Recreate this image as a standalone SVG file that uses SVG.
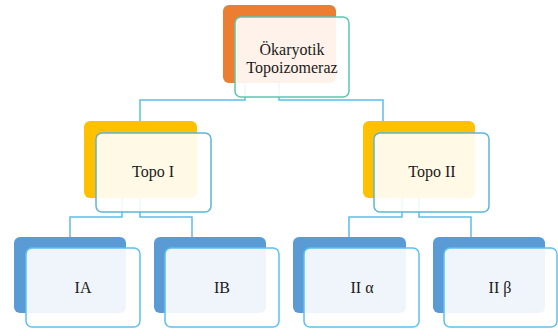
<svg xmlns="http://www.w3.org/2000/svg" width="558" height="336" viewBox="0 0 558 336">
<style>
.bg{fill:#ffffff}
.conn{fill:none;stroke:#5DBDE8;stroke-width:1.5}
.b1{fill:#ED7D31}
.b2{fill:#FFC000}
.b3{fill:#5B9BD5}
.f{fill:#ffffff;fill-opacity:0.9;stroke-width:1.5}
.f1{stroke:#5CC6AE}
.f2{stroke:#5AB6D8}
.f3{stroke:#5EC0EE}
.t{font-family:'Liberation Serif','DejaVu Serif',serif;font-size:16px;fill:#1a1a1a;text-anchor:middle}
</style>
<rect class="bg" width="558" height="336"/>
<g id="connectors">
<polyline class="conn" points="245,83 245,100 140,100 140,121"/>
<polyline class="conn" points="279,83 279,100 383,100 383,121"/>
<polyline class="conn" points="122,198 122,217 70,217 70,237"/>
<polyline class="conn" points="140,198 140,217 192,217 192,237"/>
<polyline class="conn" points="402,198 402,217 349,217 349,237"/>
<polyline class="conn" points="419,198 419,217 471,217 471,237"/>
</g>
<g id="n-top">
<rect class="b1" x="223" y="5" width="113" height="78" rx="6"/>
<rect class="f f1" x="235" y="17" width="114" height="80" rx="6"/>
<text class="t" x="292" y="55" font-family="Liberation Serif, serif">Ökaryotik</text>
<text class="t" x="292" y="73" font-family="Liberation Serif, serif">Topoizomeraz</text>
</g>
<g id="n-topo1">
<rect class="b2" x="84" y="121" width="113" height="77" rx="6"/>
<rect class="f f2" x="96" y="133" width="115" height="79" rx="6"/>
<text class="t" x="153" y="177">Topo I</text>
</g>
<g id="n-topo2">
<rect class="b2" x="363" y="121" width="112" height="77" rx="6"/>
<rect class="f f2" x="374" y="133" width="115" height="79" rx="6"/>
<text class="t" x="432" y="177">Topo II</text>
</g>
<g id="n-ia">
<rect class="b3" x="14" y="237" width="112" height="76" rx="6"/>
<rect class="f f3" x="26" y="248" width="114" height="79" rx="6"/>
<text class="t" x="83" y="293">IA</text>
</g>
<g id="n-ib">
<rect class="b3" x="154" y="237" width="112" height="76" rx="6"/>
<rect class="f f3" x="165" y="248" width="114" height="79" rx="6"/>
<text class="t" x="222" y="293">IB</text>
</g>
<g id="n-iia">
<rect class="b3" x="293" y="237" width="113" height="76" rx="6"/>
<rect class="f f3" x="304" y="248" width="115" height="79" rx="6"/>
<text class="t" x="362" y="293">II α</text>
</g>
<g id="n-iib">
<rect class="b3" x="433" y="237" width="112" height="76" rx="6"/>
<rect class="f f3" x="444" y="248" width="113" height="79" rx="6"/>
<text class="t" x="500" y="293">II β</text>
</g>
</svg>
